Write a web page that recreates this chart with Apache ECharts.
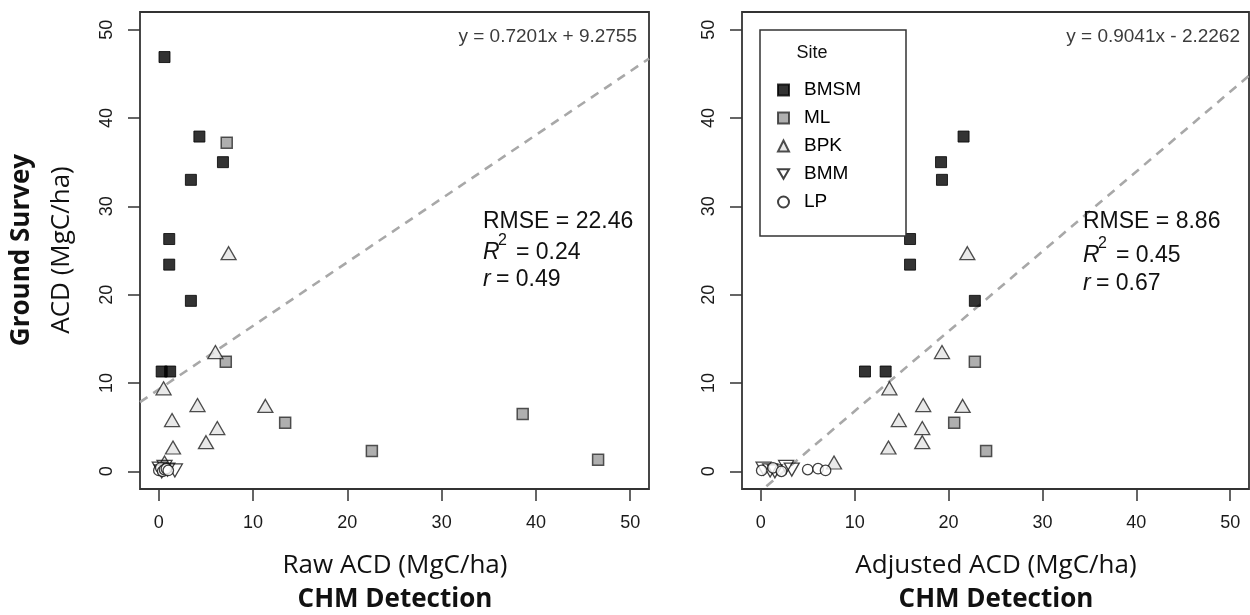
<!DOCTYPE html>
<html><head><meta charset="utf-8">
<script src="https://cdn.jsdelivr.net/npm/echarts@6/dist/echarts.min.js"></script>
<style>html,body{margin:0;padding:0;background:#fff}#c{width:1250px;height:615px}</style>
</head><body><div id="c"></div><script>
// ---------- data ----------
const siteNames = ['BMSM', 'ML', 'BPK', 'BMM', 'LP'];
const tickValues = [0, 10, 20, 30, 40, 50];
const tickLabels = ['0', '10', '20', '30', '40', '50'];
const axisMin = -2, axisMax = 52;

// Left panel: Raw ACD (x) vs Ground Survey ACD (y)
const bmsmRawX = [0.6, 4.3, 6.8, 3.4, 1.1, 1.1, 3.4, 0.3, 1.2];
const bmsmRawY = [46.9, 37.9, 35.0, 33.0, 26.3, 23.4, 19.3, 11.3, 11.3];
const mlRawX = [7.2, 7.1, 13.4, 22.6, 38.6, 46.6];
const mlRawY = [37.2, 12.4, 5.5, 2.3, 6.5, 1.3];
const bpkRawX = [7.4, 6.0, 0.5, 4.1, 11.3, 1.4, 6.2, 5.0, 1.5, 0.6];
const bpkRawY = [24.7, 13.5, 9.4, 7.5, 7.4, 5.8, 4.9, 3.3, 2.7, 1.0];
const bmmRawX = [0.1, 0.3, 0.6, 0.9, 1.7];
const bmmRawY = [0.3, 0.0, 0.5, 0.2, 0.1];
const lpRawX = [0.0, 0.2, 0.4, 0.6, 0.8, 1.0];
const lpRawY = [0.1, 0.4, 0.0, 0.2, 0.3, 0.1];

// Right panel: Adjusted ACD (x) vs Ground Survey ACD (y)
const bmsmAdjX = [21.6, 19.2, 19.3, 15.9, 15.9, 22.8, 11.1, 13.3];
const bmsmAdjY = [37.9, 35.0, 33.0, 26.3, 23.4, 19.3, 11.3, 11.3];
const mlAdjX = [22.8, 20.6, 24.0];
const mlAdjY = [12.4, 5.5, 2.3];
const bpkAdjX = [22.0, 19.3, 13.7, 17.3, 21.5, 14.7, 17.2, 17.2, 13.6, 7.8];
const bpkAdjY = [24.7, 13.5, 9.4, 7.5, 7.4, 5.8, 4.9, 3.3, 2.7, 1.0];
const bmmAdjX = [0.3, 1.5, 2.7, 3.3, 1.0];
const bmmAdjY = [0.3, 0.0, 0.5, 0.2, 0.1];
const lpAdjX = [0.1, 1.3, 2.2, 5.0, 6.1, 6.9];
const lpAdjY = [0.1, 0.4, 0.0, 0.2, 0.3, 0.1];

// fits and statistics
const rawFit = [0.7201, 9.2755];
const adjFit = [0.9041, -2.2262];
const rawEquation = 'y = 0.7201x + 9.2755';
const adjEquation = 'y = 0.9041x - 2.2262';
const rawStats = ['22.46', '0.24', '0.49'];
const adjStats = ['8.86', '0.45', '0.67'];

// ---------- styles ----------
const siteStyle = {
  BMSM: { symbol: 'rect', symbolSize: 11, itemStyle: { color: '#000', borderColor: '#000', borderWidth: 1 } },
  ML: { symbol: 'rect', symbolSize: 11, itemStyle: { color: '#9b9b9b', borderColor: '#2a2a2a', borderWidth: 1.5 } },
  BPK: { symbol: 'triangle', symbolSize: [15, 13], itemStyle: { color: '#e3e3e3', borderColor: '#222', borderWidth: 1.3 } },
  BMM: { symbol: 'triangle', symbolRotate: 180, symbolSize: [15, 13], itemStyle: { color: 'rgba(255,255,255,0)', borderColor: '#111', borderWidth: 1.3 } },
  LP: { symbol: 'circle', symbolSize: 10.5, itemStyle: { color: '#fff', borderColor: '#111', borderWidth: 1.3 } }
};

const pair = (xs, ys) => xs.map((x, i) => [x, ys[i]]);
const panels = [
  { BMSM: [bmsmRawX, bmsmRawY], ML: [mlRawX, mlRawY], BPK: [bpkRawX, bpkRawY], BMM: [bmmRawX, bmmRawY], LP: [lpRawX, lpRawY], fit: rawFit },
  { BMSM: [bmsmAdjX, bmsmAdjY], ML: [mlAdjX, mlAdjY], BPK: [bpkAdjX, bpkAdjY], BMM: [bmmAdjX, bmmAdjY], LP: [lpAdjX, lpAdjY], fit: adjFit }
];

const series = [];
panels.forEach((p, gi) => {
  series.push({
    type: 'line', xAxisIndex: gi, yAxisIndex: gi, clip: true, silent: true, z: 1,
    symbol: 'none',
    lineStyle: { color: '#a8a8a8', width: 2.6, type: [9, 7] },
    data: [[axisMin, p.fit[0] * axisMin + p.fit[1]], [axisMax, p.fit[0] * axisMax + p.fit[1]]]
  });
  siteNames.forEach(name => {
    const s = siteStyle[name];
    series.push(Object.assign({
      type: 'scatter', name: name, xAxisIndex: gi, yAxisIndex: gi, z: 3,
      data: pair(p[name][0], p[name][1])
    }, JSON.parse(JSON.stringify(s))));
  });
});

const FONT = '"Liberation Sans", Arial, sans-serif';
const mkX = gi => ({
  type: 'value', gridIndex: gi, min: axisMin, max: axisMax,
  axisLine: { show: false, onZero: false }, splitLine: { show: false },
  axisTick: { show: true, inside: false, length: 12, customValues: tickValues, lineStyle: { color: '#333', width: 1.5 } },
  axisLabel: { customValues: tickValues, formatter: v => tickLabels[tickValues.indexOf(v)], margin: 25, fontSize: 18, color: '#1a1a1a', fontFamily: FONT }
});
const mkY = gi => ({
  type: 'value', gridIndex: gi, min: axisMin, max: axisMax,
  axisLine: { show: false, onZero: false }, splitLine: { show: false },
  axisTick: { show: true, inside: false, length: 12, customValues: tickValues, lineStyle: { color: '#333', width: 1.5 } },
  axisLabel: { customValues: tickValues, formatter: v => tickLabels[tickValues.indexOf(v)], rotate: 90, margin: 24, fontSize: 18, color: '#1a1a1a', fontFamily: FONT }
});

const txt = (x, y, text, font, align, extra) => Object.assign({
  type: 'text', x: x, y: y, z: 100,
  style: { text: text, font: font, textAlign: align || 'left', textVerticalAlign: 'middle', fill: '#111' }
}, extra || {});

const titleFont = '26px "Open Sans", sans-serif';
const titleBold = 'bold 26px "Open Sans", sans-serif';
const statFont = '23px "Liberation Sans", Arial, sans-serif';
const statItal = 'italic 23px "Liberation Sans", Arial, sans-serif';
const supFont = '16px "Liberation Sans", Arial, sans-serif';
const eqFont = '19px "Liberation Sans", Arial, sans-serif';

function statBlock(x, ys, stats) {
  return [
    txt(x, ys[0], 'RMSE = ' + stats[0], statFont),
    txt(x, ys[1], 'R', statItal),
    txt(x + 15, ys[1] - 12, '2', supFont),
    txt(x + 33, ys[1], '= ' + stats[1], statFont),
    txt(x, ys[2], 'r', statItal),
    txt(x + 13, ys[2], '= ' + stats[2], statFont)
  ];
}

const graphics = [
  txt(22, 250, 'Ground Survey', titleBold, 'center', { rotation: Math.PI / 2 }),
  txt(62, 250, 'ACD (MgC/ha)', titleFont, 'center', { rotation: Math.PI / 2 }),
  txt(395, 566, 'Raw ACD (MgC/ha)', titleFont, 'center'),
  txt(395, 600, 'CHM Detection', titleBold, 'center'),
  txt(996, 566, 'Adjusted ACD (MgC/ha)', titleFont, 'center'),
  txt(996, 600, 'CHM Detection', titleBold, 'center'),
  txt(637, 37, rawEquation, eqFont, 'right'),
  txt(1240, 37, adjEquation, eqFont, 'right'),
  txt(812, 53, 'Site', '18px "Liberation Sans", Arial, sans-serif', 'center')
].concat(statBlock(483, [222, 253, 280], rawStats))
 .concat(statBlock(1083, [222, 256, 284], adjStats));
graphics.forEach(g => { g.style.fill = g.style.text.startsWith('y =') ? '#3c3c3c' : '#111'; });

const chart = echarts.init(document.getElementById('c'), null, { renderer: 'canvas' });
chart.setOption({
  animation: false,
  backgroundColor: '#fff',
  grid: [
    { left: 140, top: 12, width: 509, height: 477, show: true, borderColor: '#333', borderWidth: 1.8, backgroundColor: 'transparent' },
    { left: 742, top: 12, width: 507, height: 477, show: true, borderColor: '#333', borderWidth: 1.8, backgroundColor: 'transparent' }
  ],
  xAxis: [mkX(0), mkX(1)],
  yAxis: [mkY(0), mkY(1)],
  legend: {
    data: [
      { name: 'BMSM' }, { name: 'ML' }, { name: 'BPK' },
      { name: 'BMM', icon: 'path://M0,0 L14,0 L7,12 Z' }, { name: 'LP' }
    ],
    orient: 'vertical', left: 760, top: 30,
    padding: [46, 45, 20, 17], itemGap: 0, itemWidth: 11, itemHeight: 11,
    borderColor: '#333', borderWidth: 1.5, backgroundColor: '#fff',
    selectedMode: false, z: 50,
    textStyle: { fontSize: 19, color: '#000', fontFamily: FONT, lineHeight: 28, padding: [0, 0, 0, 10] }
  },
  graphic: graphics,
  series: series
});
</script></body></html>
